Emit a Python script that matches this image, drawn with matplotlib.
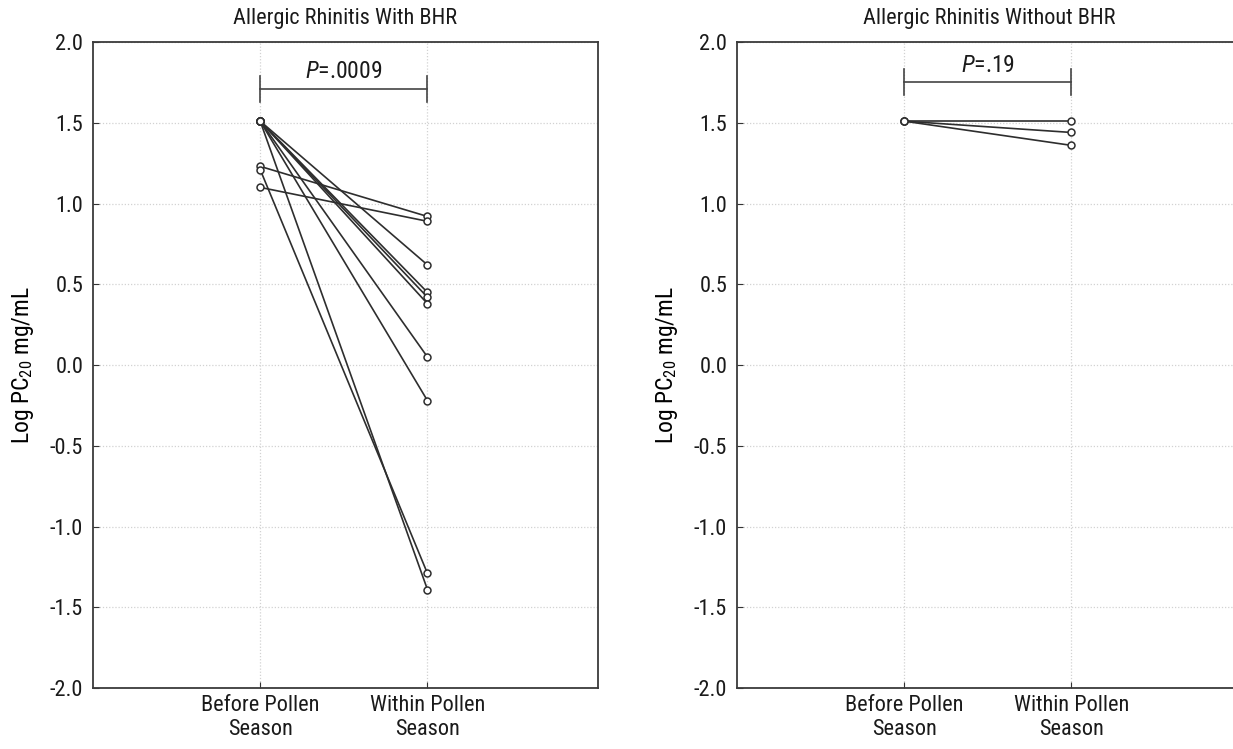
import numpy as np
import matplotlib
matplotlib.use('Agg')
import matplotlib.pyplot as plt

# font setup - narrow sans to look like the journal figure
plt.rcParams['font.family'] = ['Liberation Sans Narrow', 'Roboto Condensed', 'DejaVu Sans']
plt.rcParams['font.stretch'] = 'condensed'
plt.rcParams['mathtext.fontset'] = 'custom'
plt.rcParams['mathtext.rm'] = 'Roboto Condensed'
plt.rcParams['mathtext.it'] = 'Roboto Condensed:italic'
plt.rcParams['axes.unicode_minus'] = False

# data (log PC20)
categories = ['Before Pollen\nSeason', 'Within Pollen\nSeason']
bhr_before = [1.51, 1.51, 1.51, 1.51, 1.51, 1.51, 1.51, 1.23, 1.10, 1.21]
bhr_within = [0.62, 0.45, 0.42, 0.38, 0.05, -0.22, -1.39, 0.92, 0.89, -1.29]
nobhr_before = [1.51, 1.51, 1.51]
nobhr_within = [1.51, 1.44, 1.36]

titles = ['Allergic Rhinitis With BHR', 'Allergic Rhinitis Without BHR']
p_labels = ['$\\mathit{P}$=.0009', '$\\mathit{P}$=.19']
p_heights = [1.71, 1.75]
yticks = [2.0, 1.5, 1.0, 0.5, 0.0, -0.5, -1.0, -1.5, -2.0]

fig = plt.figure(figsize=(12.33, 7.49), dpi=100)
ax1 = fig.add_axes([0.0754, 0.0814, 0.4096, 0.8625])
ax2 = fig.add_axes([0.5977, 0.0814, 0.4096, 0.8625])

line_col = '#2e2e2e'
panels = [(ax1, bhr_before, bhr_within), (ax2, nobhr_before, nobhr_within)]
for i, (ax, before, within) in enumerate(panels):
    for b, w in zip(before, within):
        ax.plot([1, 2], [b, w], color=line_col, lw=1.2, marker='o', ms=5,
                mfc='white', mec=line_col, mew=1.1, zorder=3)

    ax.set_xlim(0, 3.02)
    ax.set_ylim(-2.0, 2.0)
    ax.set_yticks(yticks)
    ax.set_yticklabels(['%.1f' % v for v in yticks], fontsize=16)
    ax.set_xticks([1, 2])
    ax.set_xticklabels(categories, fontsize=16, linespacing=1.2)
    ax.tick_params(direction='in', length=4, width=0.8, colors='#333333',
                   labelcolor='#1a1a1a', pad=7)
    ax.tick_params(axis='x', pad=5)
    ax.grid(True, color='#d2d2d2', ls=(0, (1, 1.5)), lw=0.9)
    ax.set_axisbelow(True)
    for s in ax.spines.values():
        s.set_color('#3a3a3a')
        s.set_linewidth(1.3)
    ax.set_ylabel('Log PC$_{20}$ mg/mL', fontsize=17, labelpad=10)
    ax.set_title(titles[i], fontsize=16, pad=13, color='#1a1a1a')

    # significance bracket
    h = p_heights[i]
    ax.plot([1, 2], [h, h], color='#444444', lw=1.2)
    ax.plot([1, 1], [h - 0.08, h + 0.08], color='#444444', lw=1.2)
    ax.plot([2, 2], [h - 0.08, h + 0.08], color='#444444', lw=1.2)
    ax.text(1.5, h + 0.035, p_labels[i], ha='center', va='bottom', fontsize=17,
            color='#1a1a1a')

ax2.spines['right'].set_visible(False)

fig.savefig('out.png', dpi=100, facecolor='white')
